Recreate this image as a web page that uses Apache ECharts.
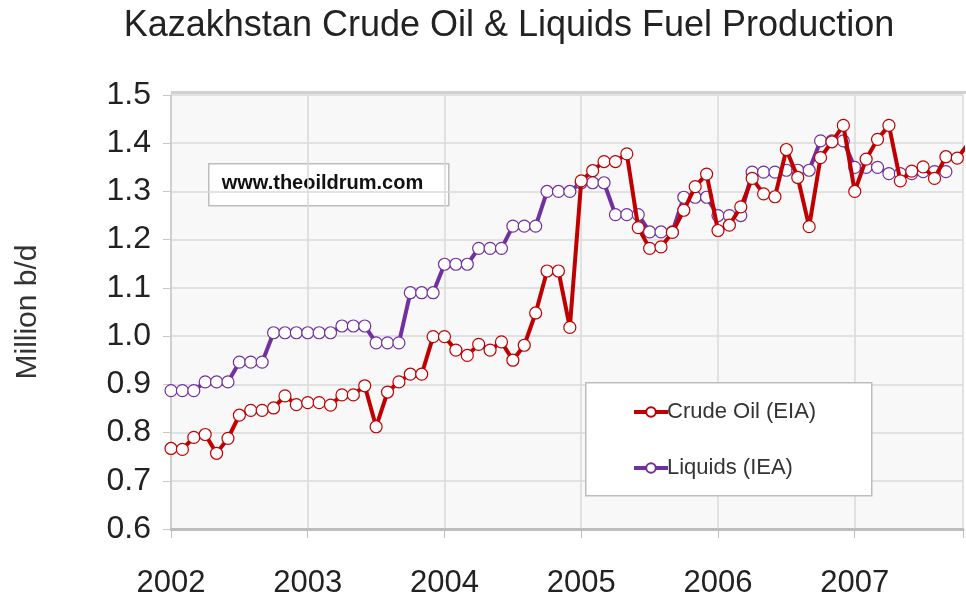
<!DOCTYPE html>
<html>
<head>
<meta charset="utf-8">
<script src="https://cdn.jsdelivr.net/npm/echarts@6/dist/echarts.min.js"></script>
<style>
  html, body { margin:0; padding:0; background:#fff; }
  #chart { width:966px; height:605px; }
</style>
</head>
<body>
<div id="chart"></div>
<script>
// monthly values, index 0 = Jan 2002
const startYear = 2002;
const yearTicks = [2002, 2003, 2004, 2005, 2006, 2007];

const crudeOil = [
  0.767, 0.765, 0.790, 0.796, 0.757, 0.788, 0.836, 0.846, 0.846, 0.851, 0.876, 0.858,
  0.862, 0.862, 0.857, 0.878, 0.878, 0.897, 0.812, 0.884, 0.905, 0.921, 0.921, 0.999,
  0.999, 0.971, 0.960, 0.983, 0.971, 0.988, 0.950, 0.981, 1.048, 1.135, 1.135, 1.018,
  1.322, 1.343, 1.362, 1.362, 1.378, 1.225, 1.182, 1.185, 1.215, 1.261, 1.310, 1.336,
  1.219, 1.230, 1.268, 1.327, 1.295, 1.289, 1.387, 1.329, 1.227, 1.370, 1.403, 1.437,
  1.300, 1.367, 1.408, 1.437, 1.322, 1.342, 1.351, 1.327, 1.372, 1.369, 1.400
];

const liquids = [
  0.887, 0.887, 0.887, 0.905, 0.905, 0.905, 0.946, 0.946, 0.946, 1.007, 1.007, 1.007,
  1.007, 1.007, 1.007, 1.021, 1.021, 1.021, 0.986, 0.986, 0.986, 1.090, 1.090, 1.090,
  1.149, 1.149, 1.149, 1.182, 1.182, 1.182, 1.228, 1.228, 1.228, 1.300, 1.300, 1.300,
  1.318, 1.318, 1.318, 1.252, 1.252, 1.252, 1.216, 1.216, 1.216, 1.288, 1.288, 1.288,
  1.250, 1.250, 1.250, 1.340, 1.340, 1.340, 1.344, 1.344, 1.344, 1.405, 1.405, 1.405,
  1.350, 1.350, 1.350, 1.337, 1.337, 1.337, 1.341, 1.341, 1.341
];

const RED = "#c00000";
const PURPLE = "#7030a0";
const FONT = "'Liberation Sans', Arial, sans-serif";

function toPoints(arr){ return arr.map((v, i) => [i, v]); }

function lineSeries(name, arr, color){
  return {
    name: name,
    type: "line",
    data: toPoints(arr),
    symbol: "circle",
    symbolSize: 12,
    showAllSymbol: true,
    clip: true,
    lineStyle: { color: color, width: 4 },
    itemStyle: { color: "#fff", borderColor: color, borderWidth: 1.2 },
    emphasis: { disabled: true },
    z: name === "Crude Oil (EIA)" ? 3 : 2
  };
}

const chart = echarts.init(document.getElementById("chart"), null, { renderer: "canvas" });

chart.setOption({
  animation: false,
  backgroundColor: "#fff",
  title: {
    text: "Kazakhstan Crude Oil & Liquids Fuel Production",
    left: 504, top: 3, textAlign: "center",
    textStyle: { fontFamily: FONT, fontSize: 36, fontWeight: "normal", color: "#222" }
  },
  grid: {
    left: 171, right: 0, top: 95, bottom: 76,
    show: true, backgroundColor: "#f8f8f8", borderWidth: 0
  },
  legend: {
    orient: "vertical",
    left: 627, top: 396,
    itemGap: 34,
    itemWidth: 34, itemHeight: 12,
    lineStyle: { width: 4 },
    textStyle: { fontFamily: FONT, fontSize: 22, color: "#333", padding: [0, 0, 0, -6] },
    data: ["Crude Oil (EIA)", "Liquids (IEA)"]
  },
  xAxis: {
    type: "value",
    min: 0, max: 69.5, interval: 12,
    axisLine: { show: true, lineStyle: { color: "#bdbdbd", width: 3 } },
    axisTick: { show: true, length: 9, lineStyle: { color: "#bdbdbd", width: 1 } },
    splitLine: { show: true, lineStyle: { color: "#dadada", width: 1.5 } },
    axisLabel: {
      margin: 39,
      fontFamily: FONT, fontSize: 31, color: "#222",
      formatter: v => {
        const y = startYear + v / 12;
        return yearTicks.includes(y) ? String(y) : "";
      }
    }
  },
  yAxis: {
    type: "value",
    min: 0.6, max: 1.5, interval: 0.1,
    name: "Million b/d",
    nameLocation: "middle",
    nameGap: 128,
    nameTextStyle: { fontFamily: FONT, fontSize: 30, color: "#333" },
    axisLine: { show: true, lineStyle: { color: "#c8c8c8", width: 1.5 } },
    axisTick: { show: true, length: 8, lineStyle: { color: "#c8c8c8" } },
    splitLine: { show: true, lineStyle: { color: "#dadada", width: 1.5 } },
    axisLabel: {
      margin: 20,
      fontFamily: FONT, fontSize: 32, color: "#222",
      formatter: v => v.toFixed(1)
    }
  },
  graphic: [
    {
      type: "rect", left: 171, top: 91, z: 1,
      shape: { width: 800, height: 3 },
      style: { fill: "#d0d0d0" }
    },
    {
      type: "group", left: 208, top: 163, z: 5,
      children: [
        { type: "rect", shape: { width: 240, height: 42 },
          style: { fill: "#fff", stroke: "#bdbdbd", lineWidth: 1.5 } },
        { type: "text", left: 13, top: 10,
          style: { text: "www.theoildrum.com", fill: "#111",
                   font: "bold 20px " + FONT } }
      ]
    },
    {
      type: "rect", left: 585, top: 382, z: 4,
      shape: { width: 286, height: 113 },
      style: { fill: "#fff", stroke: "#bdbdbd", lineWidth: 1.5 }
    }
  ],
  series: [
    lineSeries("Crude Oil (EIA)", crudeOil, RED),
    lineSeries("Liquids (IEA)", liquids, PURPLE)
  ]
});
</script>
</body>
</html>
